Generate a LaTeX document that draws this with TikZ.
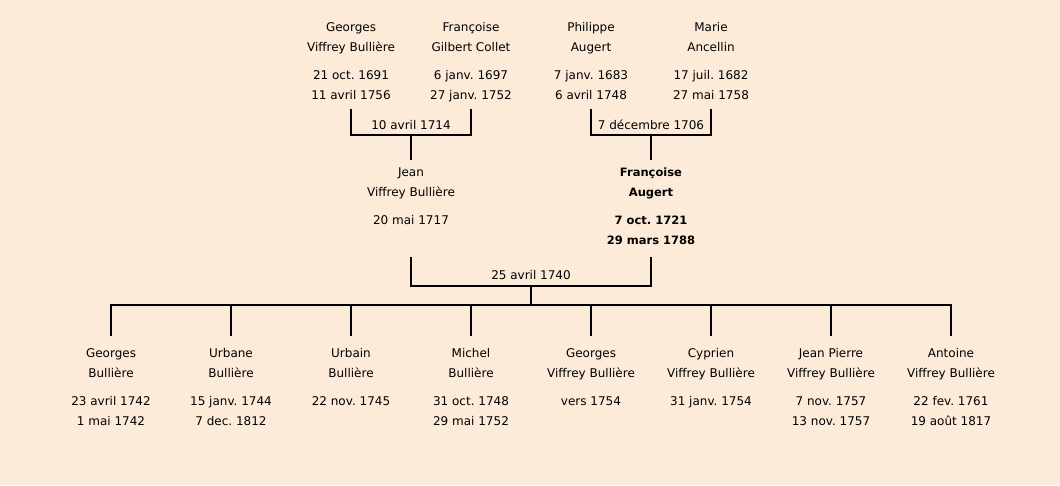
\documentclass[tikz,border=0pt]{standalone}
\usepackage{fontspec}
\setmainfont{DejaVu Sans}
\usepackage{tikz}
\usetikzlibrary{positioning}
\definecolor{parchment}{RGB}{252,235,217}
\frenchspacing

\begin{document}
\begin{tikzpicture}[x=1pt,y=1pt,
    person/.style={align=center, anchor=north, inner sep=0pt, font=\fontsize{12}{20}\selectfont},
    wedding/.style={inner sep=0pt, font=\fontsize{12}{20}\selectfont},
    link/.style={line width=2pt, line cap=rect}]
    \fill[parchment] (0,0) rectangle (1060,485);

    % grands-parents
    \node[person] (gvb) at (351,462.5) {Georges\\Viffrey Bullière\\[8pt]21 oct. 1691\\11 avril 1756};
    \node[person] (fgc) at (471,462.5) {Françoise\\Gilbert Collet\\[8pt]6 janv. 1697\\27 janv. 1752};
    \node[person] (pau) at (591,462.5) {Philippe\\Augert\\[8pt]7 janv. 1683\\6 avril 1748};
    \node[person] (man) at (711,462.5) {Marie\\Ancellin\\[8pt]17 juil. 1682\\27 mai 1758};

    % parents
    \node[person] (jvb) at (411,317.5) {Jean\\Viffrey Bullière\\[8pt]20 mai 1717};
    \node[person, font=\fontsize{11.5}{20}\selectfont\bfseries] (fau) at (651,317.5) {Françoise\\Augert\\[8pt]7 oct. 1721\\29 mars 1788};

    % enfants
    \node[person] (c1) at (111,137) {Georges\\Bullière\\[8pt]23 avril 1742\\1 mai 1742};
    \node[person] (c2) at (231,137) {Urbane\\Bullière\\[8pt]15 janv. 1744\\7 dec. 1812};
    \node[person] (c3) at (351,137) {Urbain\\Bullière\\[8pt]22 nov. 1745};
    \node[person] (c4) at (471,137) {Michel\\Bullière\\[8pt]31 oct. 1748\\29 mai 1752};
    \node[person] (c5) at (591,137) {Georges\\Viffrey Bullière\\[8pt]vers 1754};
    \node[person] (c6) at (711,137) {Cyprien\\Viffrey Bullière\\[8pt]31 janv. 1754};
    \node[person] (c7) at (831,137) {Jean Pierre\\Viffrey Bullière\\[8pt]7 nov. 1757\\13 nov. 1757};
    \node[person] (c8) at (951,137) {Antoine\\Viffrey Bullière\\[8pt]22 fev. 1761\\19 août 1817};

    % mariages
    \coordinate (t1) at (411,375);
    \coordinate (m1) at (411,350);
    \coordinate (t2) at (651,375);
    \coordinate (m2) at (651,350);
    \coordinate (t3) at (531,227);
    \coordinate (m3) at (531,199);
    \coordinate (bus) at (531,180);
    \node[wedding, above=5pt of m1] (d1) {10 avril 1714};
    \node[wedding, above=5pt of m2] (d2) {7 décembre 1706};
    \node[wedding, above=6pt of m3] (d3) {25 avril 1740};

    \draw[link] (gvb |- t1) |- (m1) -| (fgc |- t1);
    \draw[link] (pau |- t2) |- (m2) -| (man |- t2);
    \draw[link, shorten >=8pt] (m1) -- (jvb);
    \draw[link, shorten >=8pt] (m2) -- (fau);
    \draw[link] (jvb |- t3) |- (m3) -| (fau |- t3);
    \draw[link] (m3) -- (bus);
    \draw[link] (bus -| c1) -- (bus -| c8);
    \foreach \i in {1,...,8}
        \draw[link, shorten >=13pt] (bus -| c\i) -- (c\i);
\end{tikzpicture}
\end{document}
